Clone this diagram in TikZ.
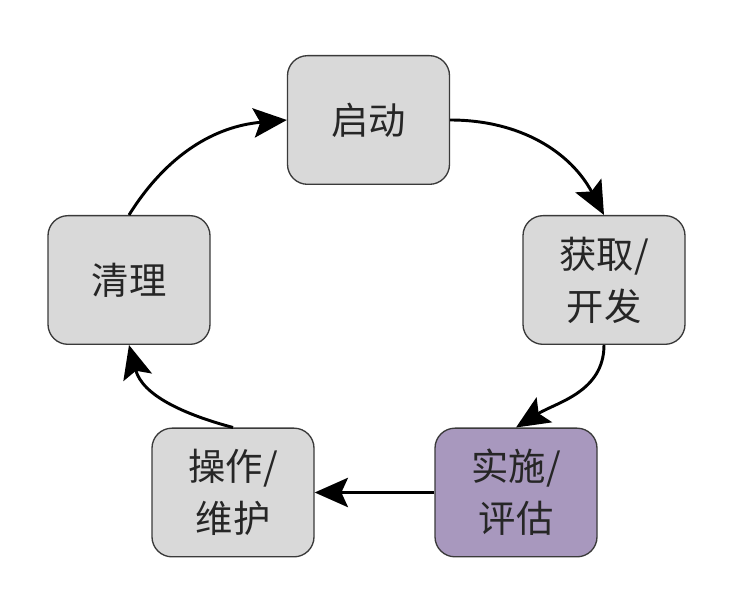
\documentclass[tikz,border=0pt]{standalone}
\usepackage{fontspec}
\newfontfamily\cjk{Noto Sans CJK SC}
\usetikzlibrary{arrows.meta}
\definecolor{boxgray}{HTML}{D9D9D9}
\definecolor{boxpurple}{HTML}{A898BE}
\definecolor{edgegray}{HTML}{3A3A3A}
\tikzset{
  stage/.style={draw=edgegray, line width=1pt, fill=boxgray, rounded corners=15pt,
    minimum width=121.5pt, minimum height=96.5pt, align=center, inner sep=0pt,
    font=\cjk\fontsize{28}{39}\selectfont, text=black!85},
  hot/.style={stage, fill=boxpurple},
  flow/.style={draw=black, line width=2.2pt, -{Stealth[length=25pt,width=22pt,inset=5pt]}}
}
\begin{document}
\begin{tikzpicture}[x=0.75pt,y=-0.75pt]
\useasboundingbox (0,0) rectangle (750,605);
\node[stage] (s) at (368.5,120) {启动};
\node[stage] (a) at (604,280) {获取/\\开发};
\node[hot]   (i) at (516,492.5) {实施/\\评估};
\node[stage] (o) at (233,492.5) {操作/\\维护};
\node[stage] (c) at (129,280) {清理};
\draw[flow] (s.east) to[out=0,in=118] (a.north);
\draw[flow] (a.south) to[out=-90,in=32] (i.north);
\draw[flow] (i.west) -- (o.east);
\draw[flow] (o.north) to[out=165,in=-75] (c.south);
\draw[flow] (c.north) to[out=58,in=185] (s.west);
\end{tikzpicture}
\end{document}
